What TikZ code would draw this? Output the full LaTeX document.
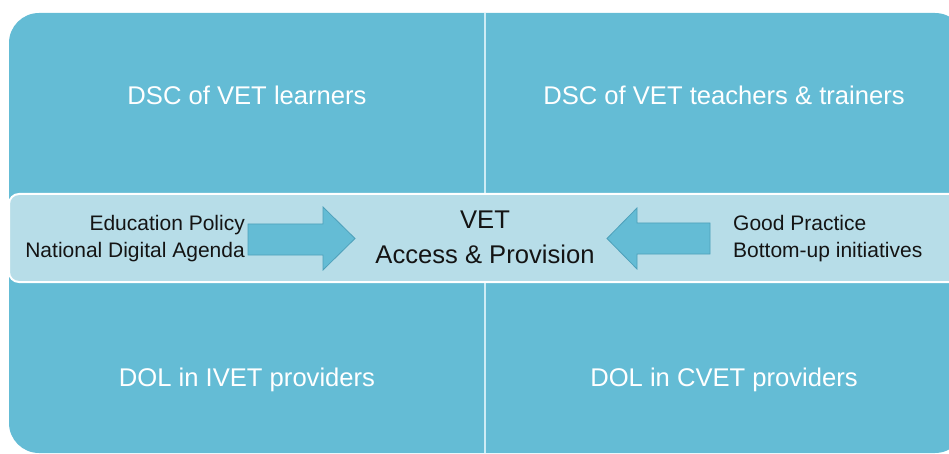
\documentclass[tikz,border=0pt]{standalone}
\usepackage{fontspec}
\setmainfont{Liberation Sans}
\definecolor{quad}{RGB}{100,188,213}
\definecolor{bandc}{RGB}{183,221,232}
\definecolor{arrowedge}{RGB}{78,160,186}
\definecolor{divider}{RGB}{205,236,245}
\definecolor{darktext}{RGB}{20,20,20}
\begin{document}
\begin{tikzpicture}[x=1pt,y=-1pt,
  quadtext/.style={text=white,font=\fontsize{25.6}{30}\selectfont,inner sep=0pt,anchor=base},
  sidetext/.style={text=darktext,font=\fontsize{21}{27}\selectfont,inner sep=0pt},
  bigarrow/.style={fill=quad,draw=arrowedge,line width=0.8pt,line join=miter}]
\useasboundingbox (0,0) rectangle (949,454);
\clip (0,0) rectangle (949,454);
% matrix block
\fill[quad,rounded corners=30pt] (9,13) rectangle (965,453);
\draw[divider,line width=2pt] (485,13) -- (485,453);
% central band
\draw[white,line width=2pt,fill=bandc,rounded corners=10pt] (9,194) rectangle (975,282);
% quadrant labels
\node[quadtext] (q1) at (247,105) {DSC of VET learners};
\node[quadtext] (q2) at (724,105) {DSC of VET teachers \& trainers};
\node[quadtext] (q3) at (247,386) {DOL in IVET providers};
\node[quadtext] (q4) at (724,386) {DOL in CVET providers};
% centre
\node[text=darktext,font=\fontsize{25.6}{35}\selectfont,align=center,inner sep=0pt] (c) at (485,237) {VET\\Access \& Provision};
% side texts
\node[sidetext,align=right,anchor=east] (l) at (245,239) {Education Policy\\National Digital Agenda};
\node[sidetext,align=left,anchor=west] (r) at (733,239) {Good Practice\\Bottom-up initiatives};
% arrows
\draw[bigarrow] (248,224) -- (323,224) -- (323,207) -- (355,238.5) -- (323,270) -- (323,255) -- (248,255) -- cycle;
\draw[bigarrow] (710,223) -- (637,223) -- (637,208) -- (607,238.5) -- (637,269) -- (637,254) -- (710,254) -- cycle;
\end{tikzpicture}
\end{document}
